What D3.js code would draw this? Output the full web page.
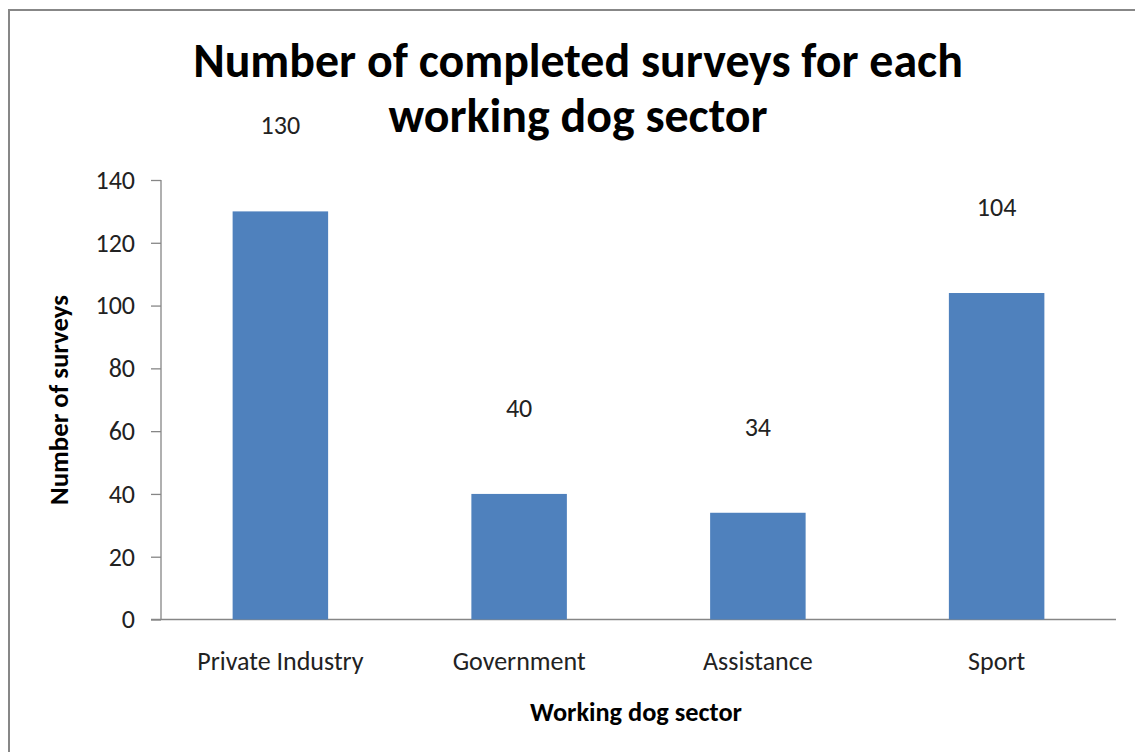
<!DOCTYPE html>
<html>
<head>
<meta charset="utf-8">
<script src="https://cdn.jsdelivr.net/npm/d3@7"></script>
<style>
  html, body { margin: 0; padding: 0; background: #fff; }
  svg { display: block; font-family: Carlito, Lato, "Open Sans", sans-serif; }
</style>
</head>
<body>
<svg id="chart" width="1135" height="752"></svg>
<script>
// Survey counts per working dog sector
const sectors = ["Private Industry", "Government", "Assistance", "Sport"];
const surveys = [130, 40, 34, 104];
const yTicks = [0, 20, 40, 60, 80, 100, 120, 140];
const titleLines = ["Number of completed surveys for each", "working dog sector"];
const xTitle = "Working dog sector";
const yTitle = "Number of surveys";

const svg = d3.select("#chart");
const W = 1135, H = 752;
const FONT = "Carlito, Lato, sans-serif";
const LABEL_SIZE = 26;

// chart frame
svg.append("rect")
  .attr("x", 9).attr("y", 10)
  .attr("width", W + 20).attr("height", H + 20)
  .attr("fill", "#fff").attr("stroke", "#878787").attr("stroke-width", 2);

const plot = { left: 161, right: 1116, top: 180, bottom: 619.5 };

const x = d3.scaleBand()
  .domain(sectors)
  .range([plot.left, plot.right])
  .paddingInner(0.6)
  .paddingOuter(0.3);

const y = d3.scaleLinear()
  .domain([0, 140])
  .range([plot.bottom, plot.top]);

// scale a text element's font size so it spans the given width
function fit(sel, width) {
  const node = sel.node();
  const size = parseFloat(sel.attr("font-size"));
  const w = node.getComputedTextLength();
  sel.attr("font-size", (size * width / w).toFixed(2));
  return sel;
}

// y axis
const yAxis = svg.append("g")
  .attr("transform", `translate(${plot.left},0)`)
  .call(d3.axisLeft(y).tickValues(yTicks).tickSize(10).tickPadding(16).tickFormat(d3.format("d")));
yAxis.selectAll("path, line").attr("stroke", "#868686").attr("stroke-width", 1.3);
yAxis.select(".domain").attr("d", `M0,${plot.top}V${plot.bottom}`);
yAxis.selectAll("text")
  .attr("font-family", FONT)
  .attr("font-size", LABEL_SIZE).attr("fill", "#222");

// x axis (baseline only)
const xAxis = svg.append("g")
  .attr("transform", `translate(0,${plot.bottom})`)
  .call(d3.axisBottom(x).tickSize(0).tickPadding(32));
xAxis.select(".domain").attr("d", `M${plot.left - 10},0H${plot.right}`)
  .attr("stroke", "#868686").attr("stroke-width", 1.3);
xAxis.selectAll("text")
  .attr("font-family", FONT)
  .attr("font-size", LABEL_SIZE).attr("fill", "#222");

// bars
svg.append("g").selectAll("rect")
  .data(sectors.map((s, i) => ({ s, v: surveys[i] })))
  .join("rect")
  .attr("x", d => x(d.s))
  .attr("y", d => y(d.v))
  .attr("width", x.bandwidth())
  .attr("height", d => y(0) - y(d.v))
  .attr("fill", "#4F81BD");

// value labels
svg.append("g").selectAll("text")
  .data(sectors.map((s, i) => ({ s, v: surveys[i] })))
  .join("text")
  .attr("x", d => x(d.s) + x.bandwidth() / 2)
  .attr("y", d => y(d.v) - 77)
  .attr("text-anchor", "middle")
  .attr("font-size", LABEL_SIZE)
  .attr("fill", "#222")
  .text(d => d.v);

// title
const t1 = svg.append("text")
  .attr("x", 578).attr("y", 77)
  .attr("text-anchor", "middle")
  .attr("font-weight", "bold").attr("font-size", 40).attr("fill", "#000")
  .text(titleLines[0]);
fit(t1, 770);
svg.append("text")
  .attr("x", 578).attr("y", 132)
  .attr("text-anchor", "middle")
  .attr("font-weight", "bold").attr("font-size", t1.attr("font-size")).attr("fill", "#000")
  .text(titleLines[1]);

// axis titles
const xt = svg.append("text")
  .attr("x", 636).attr("y", 721)
  .attr("text-anchor", "middle")
  .attr("font-weight", "bold").attr("font-size", 20).attr("fill", "#000")
  .text(xTitle);
fit(xt, 212);

const yt = svg.append("text")
  .attr("transform", "translate(68,400) rotate(-90)")
  .attr("text-anchor", "middle")
  .attr("font-weight", "bold").attr("font-size", 20).attr("fill", "#000")
  .text(yTitle);
fit(yt, 210);
</script>
</body>
</html>
